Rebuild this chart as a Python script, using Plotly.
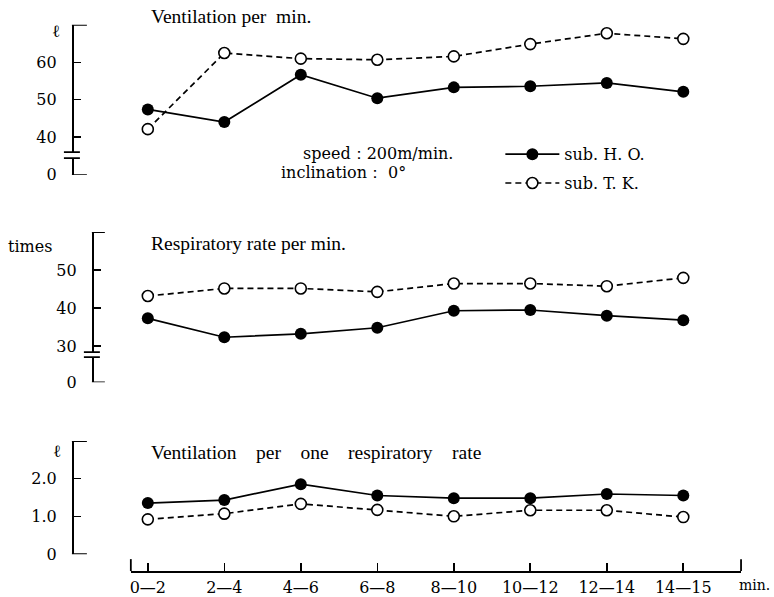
import plotly.graph_objects as go

W, H = 774, 597
HE = 587  # effective drawing height observed in the viewer

# ---- data ----
categories = ["0\u20142", "2\u20144", "4\u20146", "6\u20148", "8\u201410", "10\u201412", "12\u201414", "14\u201415"]
vent_ho = [47.4, 44.0, 56.7, 50.4, 53.3, 53.6, 54.5, 52.1]
vent_tk = [42.1, 62.5, 61.0, 60.7, 61.6, 64.9, 67.8, 66.3]
resp_ho = [37.3, 32.3, 33.2, 34.8, 39.3, 39.5, 38.0, 36.8]
resp_tk = [43.2, 45.2, 45.2, 44.3, 46.5, 46.5, 45.8, 48.0]
vpr_ho = [1.35, 1.43, 1.85, 1.55, 1.48, 1.48, 1.59, 1.55]
vpr_tk = [0.92, 1.07, 1.33, 1.17, 1.00, 1.16, 1.16, 0.98]

vent_ticks = [40, 50, 60]
resp_ticks = [30, 40, 50]
vpr_ticks = [0, 1, 2]
vpr_ticktext = ["0", "1.0", "2.0"]

series_names = ["sub. H. O.", "sub. T. K."]

# ---- helpers (pixel -> paper) ----
def py(p):
    return 1 - p / HE


def px(p):
    return p / W


FONT = "DejaVu Serif"
TFONT = "Liberation Serif"
BLACK = "#000000"
LW = 1.7
NB = "\u00a0"

fig = go.Figure()

panels = [
    ("y", vent_ho, vent_tk, True),
    ("y2", resp_ho, resp_tk, False),
    ("y3", vpr_ho, vpr_tk, False),
]
for yname, ho, tk, show in panels:
    fig.add_trace(go.Scatter(
        x=categories, y=ho, yaxis=yname, xaxis="x", mode="lines+markers",
        name=series_names[0], legendgroup="ho", showlegend=show,
        line=dict(color=BLACK, width=LW),
        marker=dict(symbol="circle", size=12, color=BLACK),
    ))
    fig.add_trace(go.Scatter(
        x=categories, y=tk, yaxis=yname, xaxis="x", mode="lines+markers",
        name=series_names[1], legendgroup="tk", showlegend=show,
        line=dict(color=BLACK, width=LW, dash="6px,4px"),
        marker=dict(symbol="circle", size=11, color="white", line=dict(color=BLACK, width=1.6)),
    ))

# axis ranges (bottom value of each broken axis is where "0" is shown)
r1 = [29.87, 70.05]
r2 = [20.37, 60.1]
r3 = [0, 2.99]

common_y = dict(
    showline=True, linecolor=BLACK, linewidth=1.8, ticks="inside", ticklen=7,
    tickwidth=1.6, tickcolor=BLACK, showgrid=False, zeroline=False,
    tickfont=dict(family=FONT, size=16, color=BLACK), anchor="free",
    ticklabelstandoff=12, fixedrange=True,
)

fig.update_layout(
    width=W, height=H,
    margin=dict(l=0, r=0, t=0, b=0),
    paper_bgcolor="white", plot_bgcolor="white",
    font=dict(family=FONT, size=16, color=BLACK),
    xaxis=dict(
        type="category", domain=[px(130), px(741)], range=[-0.222, 7.755],
        anchor="free", position=py(574), fixedrange=True,
        showline=True, linecolor=BLACK, linewidth=1.8, ticks="inside", ticklen=8,
        tickwidth=1.6, tickcolor=BLACK, showgrid=False, zeroline=False,
        tickfont=dict(family=FONT, size=16, color=BLACK), ticklabelstandoff=1,
    ),
    yaxis=dict(domain=[py(175.7), py(25)], range=r1, position=px(71),
               tickvals=[r1[0]] + vent_ticks, ticktext=["0"] + [str(v) for v in vent_ticks], **common_y),
    yaxis2=dict(domain=[py(384.3), py(233.3)], range=r2, position=px(91),
                tickvals=[r2[0]] + resp_ticks, ticktext=["0"] + [str(v) for v in resp_ticks], **common_y),
    yaxis3=dict(domain=[py(557), py(443.3)], range=r3, position=px(71),
                tickvals=vpr_ticks, ticktext=vpr_ticktext, **common_y),
    legend=dict(
        x=px(500), y=py(138), xanchor="left", yanchor="top",
        font=dict(family=FONT, size=16, color=BLACK),
        bgcolor="rgba(0,0,0,0)", itemwidth=54, tracegroupgap=5,
    ),
    showlegend=True,
)

shapes = []
line_style = dict(color=BLACK, width=1.8)
# caps at top and bottom of each y axis
for yref, rng, x0, x1 in [("y", r1, 71, 86), ("y2", r2, 91, 104), ("y3", r3, 71, 86)]:
    for v in rng:
        shapes.append(dict(type="line", xref="paper", yref=yref, x0=px(x0), x1=px(x1),
                           y0=v, y1=v, line=line_style))
# axis breaks
for yref, b_hi, b_lo, xc in [("y", 35.92, 34.32, 71), ("y2", 28.34, 27.03, 91)]:
    shapes.append(dict(type="rect", xref="paper", yref=yref, x0=px(xc - 3), x1=px(xc + 3),
                       y0=b_lo, y1=b_hi, fillcolor="white", line=dict(width=0)))
    for v in (b_hi, b_lo):
        shapes.append(dict(type="line", xref="paper", yref=yref, x0=px(xc - 8), x1=px(xc + 8),
                           y0=v, y1=v, line=line_style))
# end ticks of the x axis
for xd in (0, 1):
    shapes.append(dict(type="line", xref="x domain", yref="paper", x0=xd, x1=xd,
                       y0=py(574), y1=py(562), line=line_style))
fig.update_layout(shapes=shapes)

ann = []
def text(x, y, s, size=16, xanchor="left", family=FONT):
    ann.append(dict(x=px(x), y=py(y), xref="paper", yref="paper", text=s, showarrow=False,
                    xanchor=xanchor, yanchor="middle", font=dict(family=family, size=size, color=BLACK)))

text(148, 16.5, NB.join(["Ventilation", "per", "", "min."]), 19.5, family=TFONT)
text(148, 245, "Respiratory rate per min.", 19.5, family=TFONT)
text(148, 455, (NB * 4).join(["Ventilation", "per", "one", "respiratory", "rate"]), 19.5, family=TFONT)
text(55, 31, "\u2113", 17, "center")
text(56, 453, "\u2113", 17, "center")
text(29, 248, "times", 16, "center")
text(300, 154, "speed\uff1a200m/min.", 16)
text(278, 173, "inclination\uff1a 0\u00b0", 16)
text(772, 588, "min.", 14, "right")
fig.update_layout(annotations=ann)

fig.write_html(
    "out.html",
    config={"displayModeBar": False, "staticPlot": True},
    post_script=(
        "var s=document.createElement('style');"
        "s.textContent='html,body{margin:0;padding:0;width:774px;height:597px;overflow:hidden;"
        "line-height:0;font-size:0;}';"
        "document.head.appendChild(s);"
    ),
)
